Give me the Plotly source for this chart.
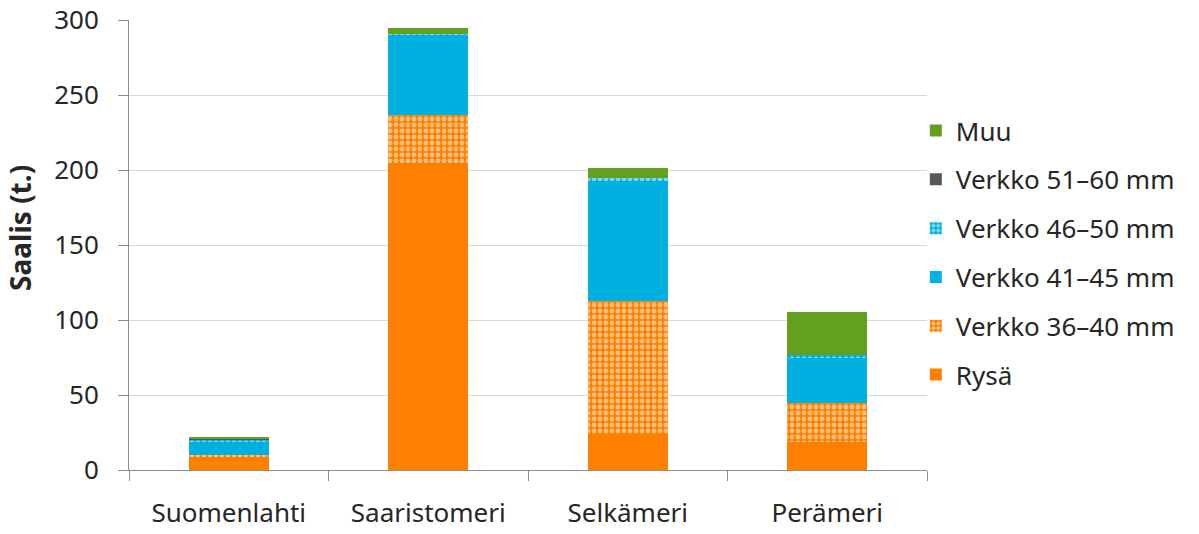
import plotly.graph_objects as go

# Data (tonnes)
areas = ['Suomenlahti', 'Saaristomeri', 'Selkämeri', 'Perämeri']
series_names = ['Rysä', 'Verkko 36–40 mm', 'Verkko 41–45 mm', 'Verkko 46–50 mm', 'Verkko 51–60 mm', 'Muu']
rysa = [9, 205, 24, 19]
verkko_36_40 = [1, 32, 89, 26]
verkko_41_45 = [9, 53, 80, 30]
verkko_46_50 = [1, 1, 1.5, 1.5]
verkko_51_60 = [0.5, 0, 0, 0]
muu = [1.5, 4, 7, 29]

values = [rysa, verkko_36_40, verkko_41_45, verkko_46_50, verkko_51_60, muu]
colors = ['#FF8000', '#FF8000', '#00B0E0', '#00B0E0', '#53565A', '#63A01E']
patterned = [False, True, False, True, False, False]

fig = go.Figure()
n = len(series_names)
for i, (name, vals, col, pat) in enumerate(zip(series_names, values, colors, patterned)):
    marker = dict(color=col, line=dict(width=0))
    if pat:
        # coloured fill with small white dots, like the Excel "lattice" fill
        marker['pattern'] = dict(shape='.', fgcolor='white', bgcolor=col,
                                 fillmode='overlay', size=6, solidity=0.5)
    # legend lists the series top-down in reverse stacking order
    fig.add_trace(go.Bar(x=areas, y=vals, name=name, marker=marker,
                         legendgroup=name, legendrank=n - i, width=0.4))

font_family = 'Noto Sans, Open Sans, sans-serif'
fig.update_layout(
    barmode='stack',
    width=1199, height=534,
    margin=dict(l=129, r=272, t=20, b=64, autoexpand=False),
    paper_bgcolor='white', plot_bgcolor='white',
    font=dict(family=font_family, size=26, color='#262626'),
    legend=dict(x=0.986, xanchor='left', y=0.483, yanchor='middle',
                traceorder='grouped', tracegroupgap=12,
                bgcolor='rgba(0,0,0,0)',
                font=dict(size=26), itemwidth=30),
)
# y-axis title placed as a rotated annotation, like the original
fig.add_annotation(text='<b>Saalis (t.)</b>', textangle=-90, showarrow=False,
                   xref='paper', yref='paper', x=-0.1366, y=0.538,
                   xanchor='center', yanchor='middle', font=dict(size=28))
fig.update_yaxes(range=[0, 300], dtick=50, showgrid=True, gridcolor='#D9D9D9', gridwidth=1,
                 showline=True, linecolor='#8C8C8C', linewidth=1,
                 ticks='outside', ticklen=10, tickcolor='#8C8C8C', ticklabelstandoff=14,
                 zeroline=False, automargin=False)
fig.update_xaxes(showline=True, linecolor='#8C8C8C', linewidth=1,
                 ticks='outside', ticklen=10, tickcolor='#8C8C8C', tickson='boundaries',
                 ticklabelstandoff=20, automargin=False)

fig.write_html('out.html', config={'displayModeBar': False},
               post_script="document.body.style.margin='0';")
